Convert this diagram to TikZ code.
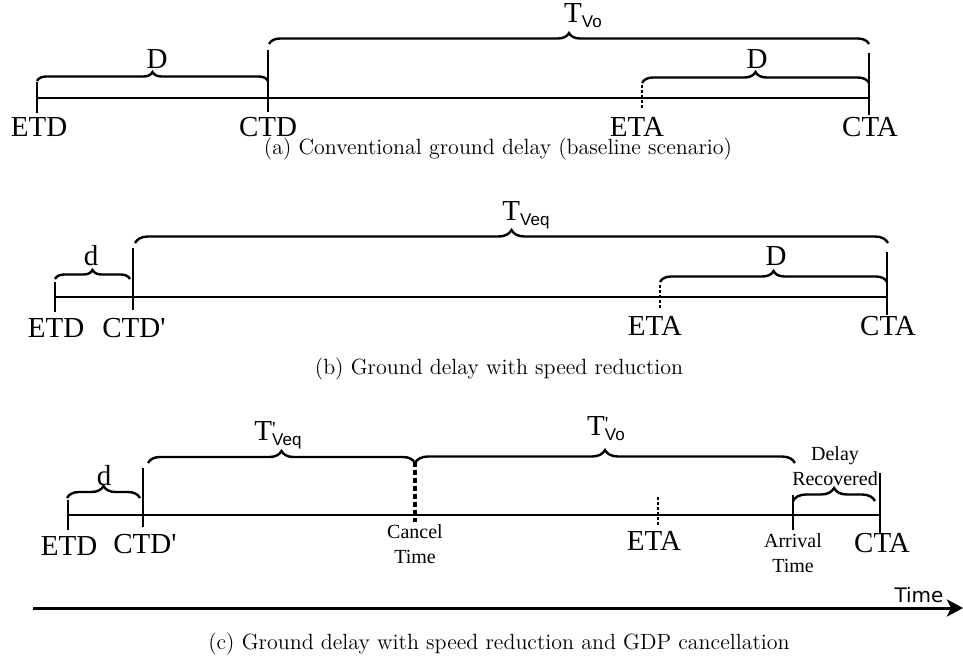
\documentclass[tikz,border=0pt]{standalone}
\usepackage{fontspec}
\newfontfamily\labfont{Liberation Serif}
\newfontfamily\subfont{Liberation Sans}
\newfontfamily\timefont{DejaVu Sans}
\usetikzlibrary{decorations.pathreplacing,arrows.meta}

\newcommand{\Tsub}[1]{T\raisebox{-2.5pt}{\subfont\fontsize{8.5}{8.5}\selectfont #1}}
\newcommand{\Tpsub}[1]{T\rlap{\raisebox{2.5pt}{\fontsize{10}{10}\selectfont\textquotesingle}}\raisebox{-2.5pt}{\subfont\fontsize{8.5}{8.5}\selectfont #1}}

\tikzset{
  timeline/.style={line width=1.3pt},
  tickmark/.style={line width=1.3pt},
  dotmark/.style={line width=1.3pt, dash pattern=on 1.5pt off 1pt},
  bracemark/.style={decorate, decoration={brace, amplitude=#1}, line width=1.2pt},
  bigtext/.style={font=\labfont\fontsize{14.5}{14.5}\selectfont, anchor=base, inner sep=0pt},
  smalltext/.style={font=\labfont\fontsize{10}{12.5}\selectfont, align=center, anchor=base, inner sep=0pt},
  captext/.style={font=\fontsize{11}{13}\selectfont, anchor=base, inner sep=0pt}
}

\begin{document}
\begin{tikzpicture}[x=0.5pt,y=-0.5pt]
\useasboundingbox (0,0) rectangle (963,659);
% (a) baseline
\draw[timeline] (37,98) -- (869,98);
\draw[tickmark] (37,82) -- (37,113);
\draw[tickmark] (268,50) -- (268,112);
\draw[dotmark] (642,85) -- (642,110);
\draw[tickmark] (869,53) -- (869,115);
\draw[bracemark=4.5pt] (37,81) -- (268,81);
\draw[bracemark=5.5pt] (269,44) -- (869,44);
\draw[bracemark=5.5pt] (642,83) -- (869,83);
\node[bigtext] (etdA) at (39,136) {ETD};
\node[bigtext] (ctdA) at (268,136) {CTD};
\node[bigtext] (etaA) at (637,136) {ETA};
\node[bigtext] (ctaA) at (870,136) {CTA};
\node[bigtext] (dA) at (157,68) {D};
\node[bigtext] (tvoA) at (583,22) {\Tsub{Vo}};
\node[bigtext] (dAb) at (757,68) {D};
\node[captext] (capA) at (498,154) {(a) Conventional ground delay (baseline scenario)};
% (b) speed reduction
\draw[timeline] (55,297) -- (887,297);
\draw[tickmark] (55,282) -- (55,312);
\draw[tickmark] (133,248) -- (133,310);
\draw[dotmark] (660,285) -- (660,308);
\draw[tickmark] (887,252) -- (887,315);
\draw[bracemark=4.5pt] (55,279) -- (130,279);
\draw[bracemark=6.5pt] (135,243) -- (888,243);
\draw[bracemark=5.5pt] (660,282) -- (887,282);
\node[bigtext] (etdB) at (56,337) {ETD};
\node[bigtext] (ctdB) at (134,337) {CTD\textquotesingle};
\node[bigtext] (etaB) at (655,335) {ETA};
\node[bigtext] (ctaB) at (888,335) {CTA};
\node[bigtext] (dB) at (91,265) {d};
\node[bigtext] (tveqB) at (526,220) {\Tsub{Veq}};
\node[bigtext] (DB) at (776,265) {D};
\node[captext] (capB) at (499,374) {(b) Ground delay with speed reduction};
% (c) speed reduction + cancellation
\draw[timeline] (68,515) -- (880,515);
\draw[tickmark] (68,500) -- (68,530);
\draw[tickmark] (143,468) -- (143,527);
\draw[line width=1.6pt, dash pattern=on 2.5pt off 1.5pt] (415,462) -- (415,522);
\draw[dotmark] (658,497) -- (658,525);
\draw[tickmark] (793,495) -- (793,530);
\draw[tickmark] (880,473) -- (880,533);
\draw[bracemark=6pt] (67,498) -- (140,498);
\draw[bracemark=6pt] (148,463) -- (415,463);
\draw[bracemark=6.5pt] (415,463) -- (795,463);
\draw[bracemark=6.5pt] (793,501) -- (875,501);
\node[bigtext] (etdC) at (69,555) {ETD};
\node[bigtext] (ctdC) at (145,553) {CTD\textquotesingle};
\node[smalltext] (cancelC) at (415,563) {Cancel\\Time};
\node[bigtext] (etaC) at (654,550) {ETA};
\node[smalltext] (arrC) at (793,572) {Arrival\\Time};
\node[bigtext] (ctaC) at (882,552) {CTA};
\node[bigtext] (dC) at (104,485) {d};
\node[bigtext] (tveqC) at (278,440) {\Tpsub{Veq}};
\node[bigtext] (tvoC) at (606,435) {\Tpsub{Vo}};
\node[smalltext] (recC) at (835,485) {Delay\\Recovered};
% time axis
\draw[line width=1.5pt, -{Stealth[length=8pt, width=8.5pt, inset=2pt]}] (33,608) -- (963,608);
\node[anchor=base, inner sep=0pt, font=\timefont\fontsize{10}{10}\selectfont] (timeC) at (919,602) {Time};
\node[captext] (capC) at (499,649) {(c) Ground delay with speed reduction and GDP cancellation};
\end{tikzpicture}
\end{document}
